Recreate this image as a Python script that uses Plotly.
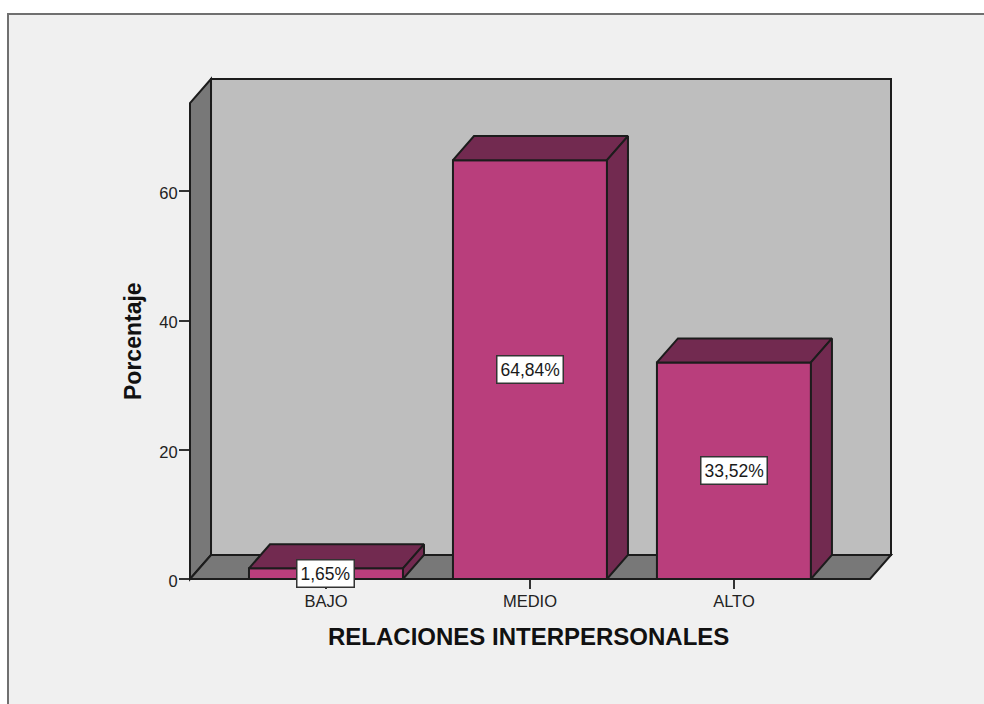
import plotly.graph_objects as go

categories = ["BAJO", "MEDIO", "ALTO"]
values = [1.65, 64.84, 33.52]
labels = ["1,65%", "64,84%", "33,52%"]
y_ticks = [0, 20, 40, 60]

BAR_W = 0.755
DX = 0.103
DY = 3.72
X0, X1 = -0.6667, 2.77
Y1 = 77.4
WALL_TOP = Y1 - DY
LINE = "#1c1c1c"
L, R, T, B = 190, 93, 79, 125
PW, PH = 984 - L - R, 704 - T - B


def px(x):
    return (x - X0) / (X1 - X0)


def py(y):
    return y / Y1


def poly(points, fill):
    d = "M " + " L ".join(f"{px(a):.5f},{py(b):.5f}" for a, b in points) + " Z"
    return dict(type="path", xref="paper", yref="paper", path=d, fillcolor=fill,
                line=dict(color=LINE, width=2), layer="below")


fx1 = X1 - DX
shapes = [
    dict(type="rect", xref="paper", yref="paper", layer="below",
         x0=(8 - L) / PW, x1=(1000 - L) / PW, y0=(579 - 720) / PH, y1=(579 - 14) / PH,
         fillcolor="#f0f0f0", line=dict(color="#707070", width=2)),
    poly([(X0 + DX, DY), (X1, DY), (X1, Y1), (X0 + DX, Y1)], "#bebebe"),
    poly([(X0, 0), (X0 + DX, DY), (X0 + DX, Y1), (X0, WALL_TOP)], "#787878"),
    poly([(X0, 0), (fx1, 0), (X1, DY), (X0 + DX, DY)], "#787878"),
]

fig = go.Figure()
fig.add_trace(go.Bar(
    x=list(range(len(categories))), y=values, width=BAR_W, cliponaxis=False,
    marker=dict(color="#b93e7c", line=dict(color=LINE, width=2)), hoverinfo="skip",
))
for i, v in enumerate(values):
    a, b = i - BAR_W / 2, i + BAR_W / 2
    fig.add_trace(go.Scatter(
        x=[a, b, b + DX, a + DX, a], y=[v, v, v + DY, v + DY, v], mode="lines",
        fill="toself", fillcolor="#722a50", line=dict(color=LINE, width=2),
        cliponaxis=False, hoverinfo="skip"))
    fig.add_trace(go.Scatter(
        x=[b, b + DX, b + DX, b, b], y=[0, DY, v + DY, v, 0], mode="lines",
        fill="toself", fillcolor="#722a50", line=dict(color=LINE, width=2),
        cliponaxis=False, hoverinfo="skip"))

annotations = [
    dict(x=i, y=v / 2, xref="x", yref="y", text=t, showarrow=False,
         font=dict(family="Liberation Sans", size=17.5, color="#1a1a1a"),
         bgcolor="white", bordercolor="#333333", borderwidth=1.5, borderpad=3)
    for i, (v, t) in enumerate(zip(values, labels))
]
annotations += [
    dict(x=(528.5 - L) / PW, y=(579 - 636) / PH, xref="paper", yref="paper",
         text="<b>RELACIONES INTERPERSONALES</b>", showarrow=False,
         xanchor="center", yanchor="middle",
         font=dict(size=24, color="#111111", family="Liberation Sans")),
    dict(x=(133 - L) / PW, y=(579 - 341) / PH, xref="paper", yref="paper",
         text="<b>Porcentaje</b>", showarrow=False, textangle=-90,
         xanchor="center", yanchor="middle",
         font=dict(size=23, color="#111111", family="Liberation Sans")),
]

fig.update_layout(
    width=984, height=704, autosize=False, showlegend=False,
    margin=dict(l=L, r=R, t=T, b=B),
    paper_bgcolor="white", plot_bgcolor="rgba(0,0,0,0)",
    shapes=shapes, annotations=annotations,
    font=dict(family="Liberation Sans", color="#222222"),
    xaxis=dict(range=[X0, X1], tickmode="array", tickvals=list(range(len(categories))),
               ticktext=categories, ticks="outside", ticklen=9, tickwidth=1.5,
               tickcolor="#333333", tickfont=dict(size=16.5), ticklabelstandoff=-2,
               showgrid=False, zeroline=False, showline=False, automargin=False),
    yaxis=dict(range=[0, Y1], tickmode="array", tickvals=y_ticks, ticks="outside",
               ticklen=10, tickwidth=1.5, tickcolor="#333333", tickfont=dict(size=16.5),
               ticklabelshift=2, ticklabelstandoff=-2, showgrid=False, zeroline=False,
               showline=False, automargin=False),
)
fig.write_html("out.html", config=dict(displayModeBar=False),
               post_script="document.body.style.margin='0';document.body.style.overflow='hidden';")
